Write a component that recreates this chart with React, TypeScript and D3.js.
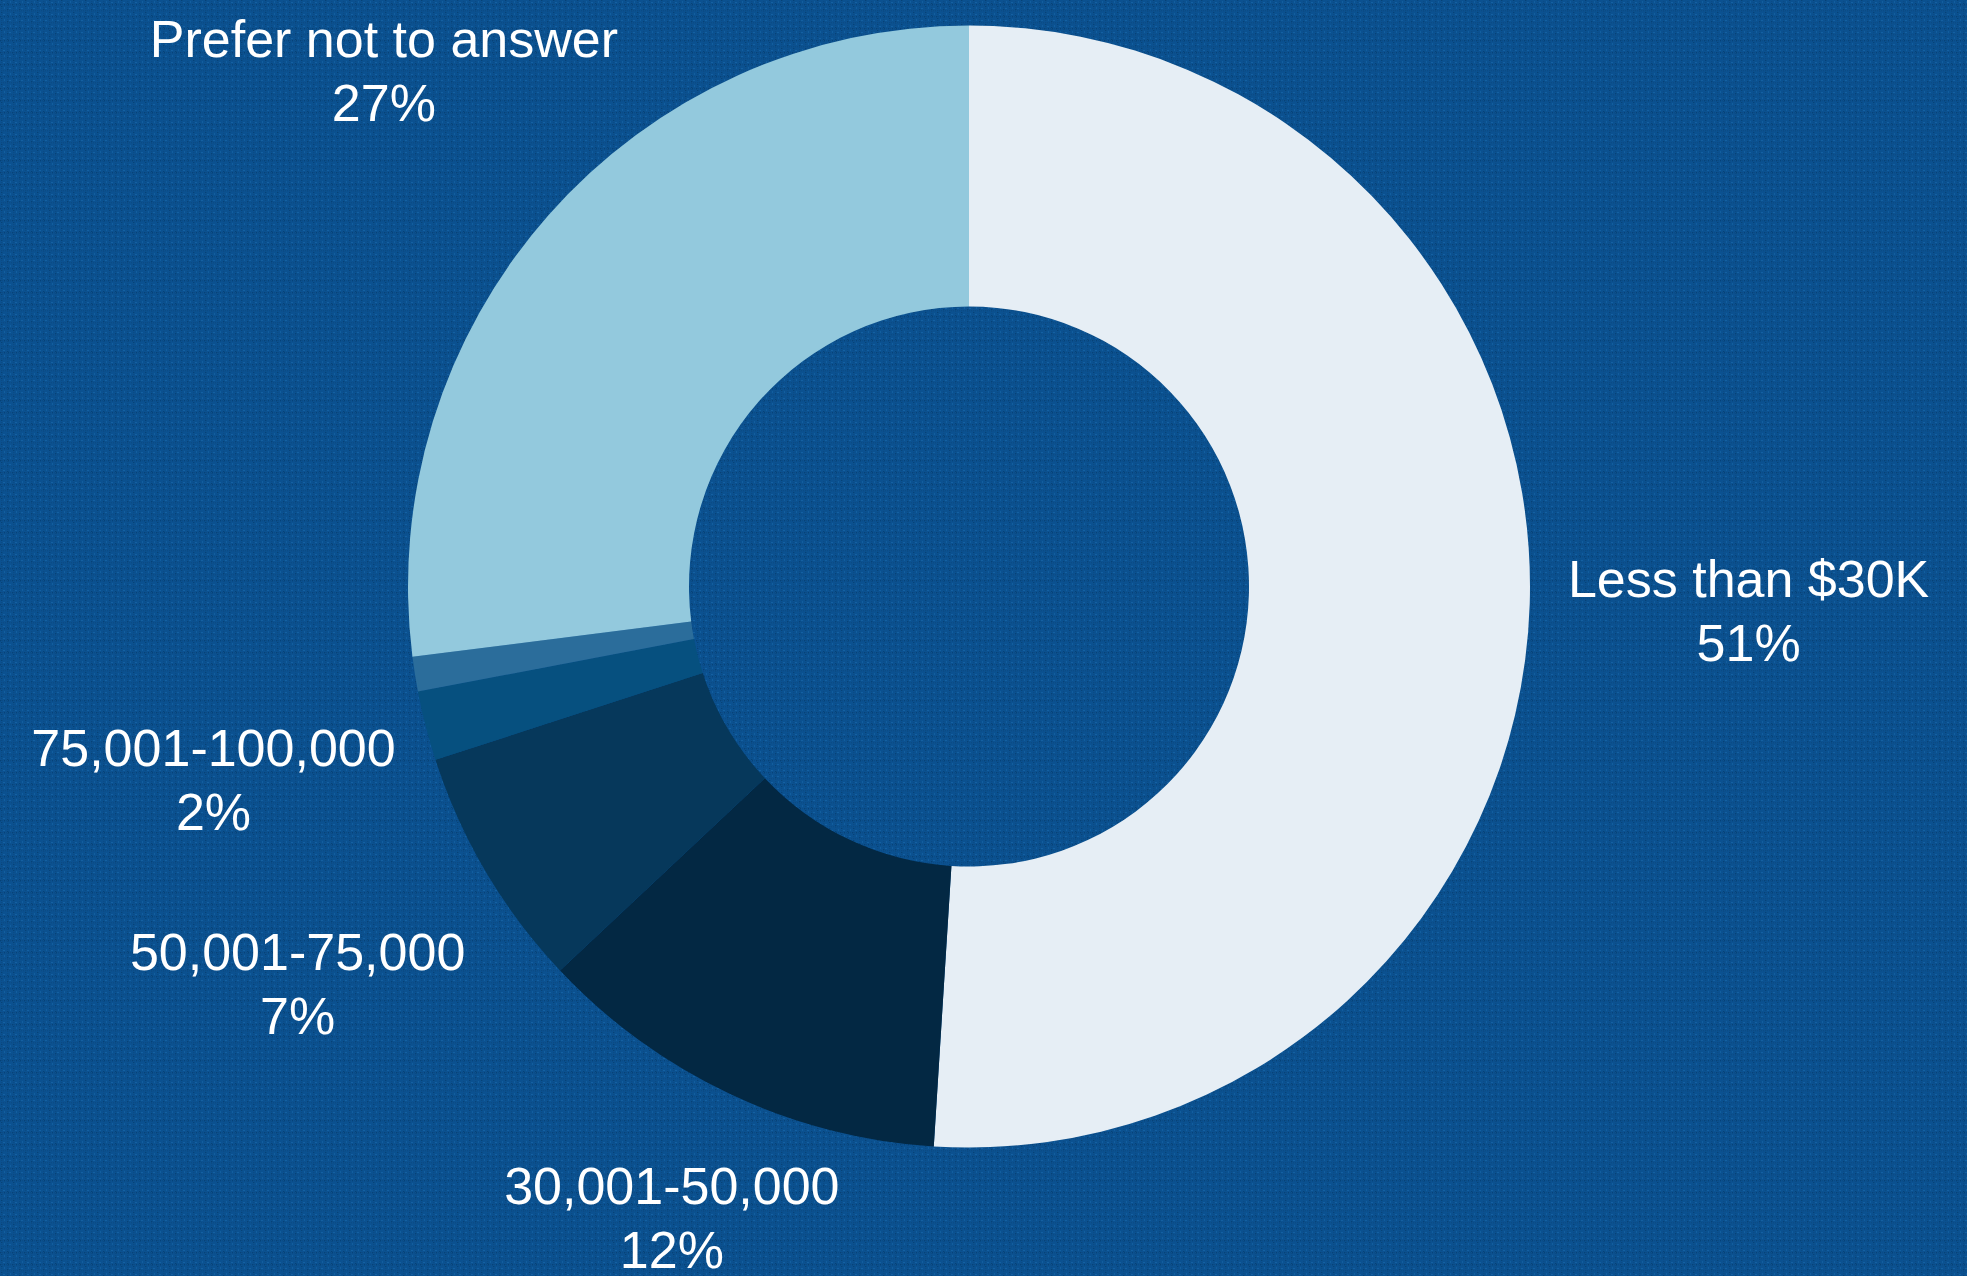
import React from 'react';
import * as d3 from 'd3';

const categories = [
  'Less than $30K',
  '30,001-50,000',
  '50,001-75,000',
  '75,001-100,000',
  'Over 100,000',
  'Prefer not to answer'
];
const values = [51, 12, 7, 2, 1, 27];
const showLabel = [true, true, true, true, false, true];
const colors = ['#e6eef5', '#032843', '#06385b', '#06507f', '#2b6d9b', '#93c9dd'];

interface Slice {
  name: string;
  value: number;
  color: string;
  labelled: boolean;
}

const slices: Slice[] = categories.map((name, i) => ({
  name,
  value: values[i],
  color: colors[i],
  labelled: showLabel[i]
}));

const size = { width: 1967, height: 1276 };
const center = { x: 969, y: 586.5 };
const outerRadius = 561;
const innerRadius = 280;
const labelRadius = 780;
const lineGap = 64;
const font = '"Liberation Sans", Arial, sans-serif';

function Texture() {
  // rough canvas weave for the background
  const cells = d3.range(0, 12);
  return (
    <pattern id="weave" width={12} height={12} patternUnits="userSpaceOnUse">
      <rect width={12} height={12} fill="#0b5190" />
      {cells.map(i => (
        <rect
          key={'v' + i}
          x={i % 2 === 0 ? 1 : 7}
          y={i}
          width={1.4}
          height={1}
          fill={i % 3 === 0 ? '#063f73' : '#0a4a84'}
          opacity={0.85}
        />
      ))}
      {cells.map(i => (
        <rect
          key={'h' + i}
          x={i}
          y={i % 2 === 0 ? 4 : 10}
          width={1}
          height={1.4}
          fill={i % 4 === 0 ? '#063f73' : '#0a4a84'}
          opacity={0.85}
        />
      ))}
      <rect x={3} y={2} width={2} height={1} fill="#1a6bab" opacity={0.6} />
      <rect x={9} y={8} width={2} height={1} fill="#1a6bab" opacity={0.6} />
      <rect x={4} y={7} width={1} height={2} fill="#1a6bab" opacity={0.5} />
      <rect x={10} y={1} width={1} height={2} fill="#1a6bab" opacity={0.5} />
    </pattern>
  );
}

export default function App() {
  const pie = d3
    .pie<Slice>()
    .value(d => d.value)
    .sort(null);

  const arc = d3
    .arc<d3.PieArcDatum<Slice>>()
    .innerRadius(innerRadius)
    .outerRadius(outerRadius);

  const arcs = pie(slices);
  const maxCy = size.height - 8 - lineGap / 2 - 18;

  const labels = arcs
    .filter(a => a.data.labelled)
    .map(a => {
      const angle = (a.startAngle + a.endAngle) / 2;
      let r = labelRadius;
      let cy = center.y - r * Math.cos(angle);
      if (cy > maxCy) {
        r = (maxCy - center.y) / -Math.cos(angle);
        cy = maxCy;
      }
      const cx = center.x + r * Math.sin(angle);
      return (
        <text
          key={a.data.name}
          x={cx}
          y={cy - 14}
          textAnchor="middle"
          fill="#ffffff"
          fontSize={52}
          fontFamily={font}
        >
          <tspan x={cx}>{a.data.name}</tspan>
          <tspan x={cx} dy={lineGap}>
            {a.data.value}%
          </tspan>
        </text>
      );
    });

  return (
    <svg
      width={size.width}
      height={size.height}
      style={{ position: 'absolute', left: 0, top: 0, display: 'block' }}
    >
      <defs>
        <Texture />
      </defs>
      <rect width={size.width} height={size.height} fill="url(#weave)" />
      <g transform={`translate(${center.x}, ${center.y})`}>
        {arcs.map(a => (
          <path key={a.data.name} d={arc(a)!} fill={a.data.color} />
        ))}
      </g>
      <g className="labels">{labels}</g>
    </svg>
  );
}
